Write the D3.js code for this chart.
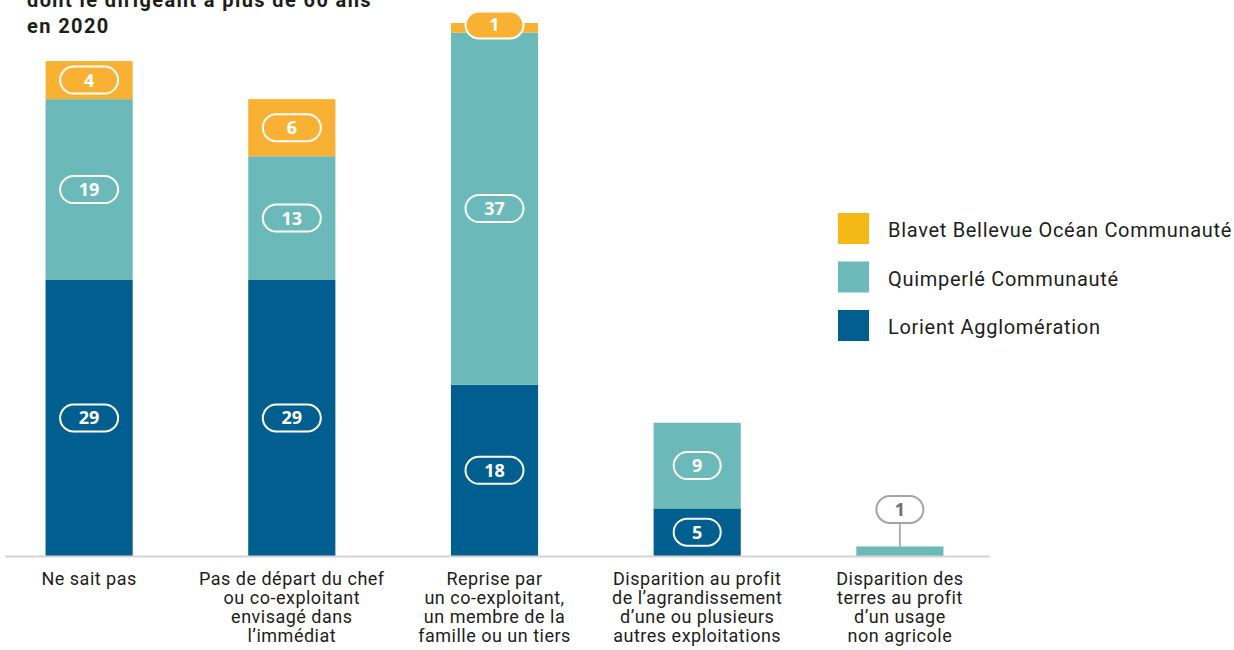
<!DOCTYPE html>
<html>
<head>
<meta charset="utf-8">
<script src="https://cdn.jsdelivr.net/npm/d3@7"></script>
<style>
  body { margin: 0; background: #fff; }
  svg text { font-family: Roboto, "DejaVu Sans", sans-serif; }
  .title { font-size: 20px; font-weight: 700; fill: #1d1d1b; letter-spacing: 1.4px; }
  .pill-text { font-family: "Open Sans", "Liberation Sans", sans-serif !important; font-size: 18px; font-weight: 700; }
  .legend-text { font-size: 20px; fill: #1d1d1b; letter-spacing: 0.7px; }
  .cat-label { font-size: 18px; fill: #1d1d1b; letter-spacing: 0.5px; }
</style>
</head>
<body>
<div id="chart"></div>
<script>
// categories, one array of lines per bar
const categories = [
  ["Ne sait pas"],
  ["Pas de départ du chef", "ou co-exploitant", "envisagé dans", "l’immédiat"],
  ["Reprise par", "un co-exploitant,", "un membre de la", "famille ou un tiers"],
  ["Disparition au profit", "de l’agrandissement", "d’une ou plusieurs", "autres exploitations"],
  ["Disparition des", "terres au profit", "d’un usage", "non agricole"]
];
const series = ["Lorient Agglomération", "Quimperlé Communauté", "Blavet Bellevue Océan Communauté"];
const lorient   = [29, 29, 18, 5, 0];
const quimperle = [19, 13, 37, 9, 1];
const blavet    = [4, 6, 1, 0, 0];
const titleLines = ["dont le dirigeant a plus de 60 ans", "en 2020"];

const colors = ["#005f8f", "#6cb9b9", "#f9b134"];
const legendColors = ["#005f8f", "#6cb9b9", "#f4b914"];

const width = 1234, height = 650;
const baseY = 556;

const svg = d3.select("#chart")
  .append("svg")
    .attr("width", width)
    .attr("height", height);

// title (first line is cut off by the top edge, as in the source)
svg.selectAll(".title")
  .data(titleLines)
  .join("text")
    .attr("class", "title")
    .attr("x", 27)
    .attr("y", (d, i) => 7 + i * 26)
    .text(d => d);

const idx = categories.map((d, i) => i);
const table = idx.map(i => ({ i: i, lorient: lorient[i], quimperle: quimperle[i], blavet: blavet[i] }));
const keys = ["lorient", "quimperle", "blavet"];
const stacked = d3.stack().keys(keys)(table);

const x = d3.scaleBand()
  .domain(idx)
  .range([5, 984])
  .paddingInner(0.57)
  .paddingOuter(0.2);

const y = d3.scaleLinear()
  .domain([0, 56])
  .range([baseY, 23]);

// bars
svg.append("g")
  .selectAll("g")
  .data(stacked)
  .join("g")
    .attr("fill", (d, k) => colors[k])
  .selectAll("rect")
  .data(d => d)
  .join("rect")
    .attr("x", d => x(d.data.i))
    .attr("y", d => y(d[1]))
    .attr("width", x.bandwidth())
    .attr("height", d => y(d[0]) - y(d[1]));

// baseline
svg.append("line")
  .attr("x1", 5).attr("x2", 990)
  .attr("y1", baseY + 0.5).attr("y2", baseY + 0.5)
  .attr("stroke", "#d4d4d4")
  .attr("stroke-width", 2);

// value pills
const pills = [];
stacked.forEach((s, k) => s.forEach(d => {
  const v = d[1] - d[0];
  if (v > 0) pills.push({ v: v, k: k, i: d.data.i, y0: d[0], y1: d[1], total: lorient[d.data.i] + quimperle[d.data.i] + blavet[d.data.i] });
}));

const pg = svg.append("g")
  .selectAll("g")
  .data(pills)
  .join("g")
    .attr("transform", d => {
      const cx = x(d.i) + x.bandwidth() / 2;
      const h = y(d.y0) - y(d.y1);
      let cy = (y(d.y0) + y(d.y1)) / 2;
      if (d.total < 3) cy = y(d.y1) - 37;
      else if (h < 27) cy = y(d.y1) + 2;
      return `translate(${cx},${cy})`;
    });

pg.filter(d => d.total < 3)
  .append("line")
    .attr("x1", 0).attr("x2", 0)
    .attr("y1", 14).attr("y2", 37)
    .attr("stroke", "#9d9d9c")
    .attr("stroke-width", 1.5);

pg.append("rect")
  .attr("x", d => d.i < 3 ? -29 : -23.5)
  .attr("y", -13.5)
  .attr("width", d => d.i < 3 ? 58 : 47)
  .attr("height", 27)
  .attr("rx", 13.5)
  .attr("fill", d => d.total < 3 ? "#fff" : colors[d.k])
  .attr("stroke", d => d.total < 3 ? "#a5a5a5" : "#fff")
  .attr("stroke-width", 2);

pg.append("text")
  .attr("class", "pill-text")
  .attr("text-anchor", "middle")
  .attr("dy", "0.36em")
  .attr("fill", d => d.total < 3 ? "#6f6f6e" : "#fff")
  .text(d => d.v);

// x axis labels
const xAxis = svg.append("g")
  .attr("transform", `translate(0,${baseY})`)
  .call(d3.axisBottom(x).tickSize(0).tickFormat(""));
xAxis.select(".domain").remove();
xAxis.selectAll(".tick text").remove();
xAxis.selectAll(".tick")
  .append("text")
    .attr("class", "cat-label")
    .attr("text-anchor", "middle")
    .attr("fill", "#1d1d1b")
  .selectAll("tspan")
  .data(d => categories[d])
  .join("tspan")
    .attr("x", 0)
    .attr("y", (d, j) => 29 + j * 19)
    .text(d => d);

// legend
const legendOrder = [2, 1, 0];
const lg = svg.append("g")
  .selectAll("g")
  .data(legendOrder)
  .join("g")
    .attr("transform", (k, j) => `translate(838,${213 + j * 48.5})`);
lg.append("rect")
  .attr("width", 31)
  .attr("height", 31)
  .attr("fill", k => legendColors[k]);
lg.append("text")
  .attr("class", "legend-text")
  .attr("x", 50)
  .attr("y", 24)
  .text(k => series[k]);
</script>
</body>
</html>
